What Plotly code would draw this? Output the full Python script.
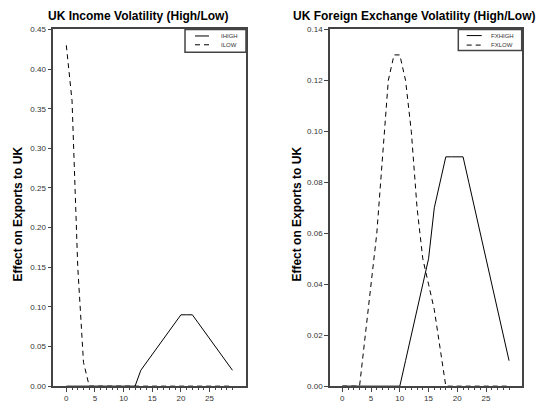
import plotly.graph_objects as go

# Horizon (periods) shared by both panels
periods = list(range(30))

# UK income volatility responses
ihigh = [0, 0, 0, 0, 0, 0, 0, 0, 0, 0, 0, 0, 0,
         0.02, 0.03, 0.04, 0.05, 0.06, 0.07, 0.08, 0.09, 0.09, 0.09,
         0.08, 0.07, 0.06, 0.05, 0.04, 0.03, 0.02]
ilow = [0.43, 0.36, 0.15, 0.03, 0,
        0, 0, 0, 0, 0, 0, 0, 0, 0, 0, 0, 0, 0, 0, 0,
        0, 0, 0, 0, 0, 0, 0, 0, 0, 0]

# UK foreign exchange volatility responses
fxhigh = [0, 0, 0, 0, 0, 0, 0, 0, 0, 0, 0,
          0.01, 0.02, 0.03, 0.04, 0.05, 0.07, 0.08, 0.09, 0.09, 0.09, 0.09,
          0.08, 0.07, 0.06, 0.05, 0.04, 0.03, 0.02, 0.01]
fxlow = [0, 0, 0, 0, 0.02, 0.04, 0.06, 0.09, 0.12, 0.13, 0.13, 0.12, 0.10,
         0.07, 0.05, 0.04, 0.03, 0.015, 0,
         0, 0, 0, 0, 0, 0, 0, 0, 0, 0, 0]

left_titles = ["UK Income Volatility (High/Low)", "UK Foreign Exchange Volatility (High/Low)"]
y_title = "Effect on Exports to UK"
x_ticks = [0, 5, 10, 15, 20, 25]
left_y_ticks = [0.00, 0.05, 0.10, 0.15, 0.20, 0.25, 0.30, 0.35, 0.40, 0.45]
right_y_ticks = [0.00, 0.02, 0.04, 0.06, 0.08, 0.10, 0.12, 0.14]

W, H = 540, 411
FRAME = "#444444"
TEXT = "#333333"
DASH = "5px,4px"


def px(x):
    return x / W


def py(y):
    return 1 - y / H


fig = go.Figure()

panels = [
    dict(xa="x", ya="y", series=[("IHIGH", ihigh, "solid"), ("ILOW", ilow, DASH)]),
    dict(xa="x2", ya="y2", series=[("FXHIGH", fxhigh, "solid"), ("FXLOW", fxlow, DASH)]),
]

for p in panels:
    for name, vals, dash in p["series"]:
        fig.add_trace(go.Scatter(
            x=periods, y=vals, name=name, mode="lines",
            line=dict(color="black", width=1, dash=dash),
            xaxis=p["xa"], yaxis=p["ya"], showlegend=False,
        ))

axis_common = dict(
    showline=True, linecolor=FRAME, linewidth=1.5, mirror=True,
    showgrid=False, zeroline=False, ticks="outside", ticklen=4,
    tickcolor=FRAME, tickwidth=1, tickfont=dict(family="Liberation Sans, Arial", size=8, color=TEXT),
)

xminor = dict(tickmode="array", tickvals=periods, ticks="outside", ticklen=2,
              tickcolor=FRAME, tickwidth=1, showgrid=False)

fig.update_layout(
    width=W, height=H,
    margin=dict(l=0, r=0, t=0, b=0),
    paper_bgcolor="white", plot_bgcolor="white",
    showlegend=False,
    xaxis=dict(domain=[px(53.3), px(246)], range=[-2.27, 31.36], anchor="y",
               tickmode="array", tickvals=x_ticks, minor=xminor, **axis_common),
    yaxis=dict(domain=[py(390.7), py(26)], range=[0, 0.45], anchor="x",
               tickmode="array", tickvals=left_y_ticks, tickformat=".2f", **axis_common),
    xaxis2=dict(domain=[px(330), px(521.7)], range=[-2.14, 31.2], anchor="y2",
                tickmode="array", tickvals=x_ticks, minor=xminor, **axis_common),
    yaxis2=dict(domain=[py(390.7), py(26)], range=[0, 0.14], anchor="x2",
                tickmode="array", tickvals=right_y_ticks, tickformat=".2f", **axis_common),
)

title_font = dict(family="Liberation Sans, Arial", size=12, color="black")
annotations = [
    dict(text="<b>%s</b>" % left_titles[0], x=px(138.2), y=py(12.5), xref="paper", yref="paper",
         showarrow=False, xanchor="center", yanchor="middle", font=title_font),
    dict(text="<b>%s</b>" % left_titles[1], x=px(414.3), y=py(12.5), xref="paper", yref="paper",
         showarrow=False, xanchor="center", yanchor="middle", font=title_font),
    dict(text="<b>%s</b>" % y_title, x=px(18.3), y=py(215), xref="paper", yref="paper",
         showarrow=False, textangle=-90, xanchor="center", yanchor="middle", font=title_font),
    dict(text="<b>%s</b>" % y_title, x=px(297.3), y=py(215), xref="paper", yref="paper",
         showarrow=False, textangle=-90, xanchor="center", yanchor="middle", font=title_font),
]

# Legend boxes drawn in the upper-right corner of each panel
legend_specs = [
    dict(box=(185, 26, 246, 49.3), rows=(32.7, 41.7), sample=(195, 209), text_x=219,
         names=[s[0] for s in panels[0]["series"]], dashes=[s[2] for s in panels[0]["series"]]),
    dict(box=(458.3, 26, 521.7, 47.5), rows=(32.3, 42), sample=(466.7, 481.7), text_x=489.3,
         names=[s[0] for s in panels[1]["series"]], dashes=[s[2] for s in panels[1]["series"]]),
]

shapes = []
for spec in legend_specs:
    x0, y0, x1, y1 = spec["box"]
    shapes.append(dict(type="rect", xref="paper", yref="paper",
                       x0=px(x0), x1=px(x1), y0=py(y1), y1=py(y0),
                       line=dict(color=FRAME, width=1.5), fillcolor="white", layer="above"))
    for row_y, name, dash in zip(spec["rows"], spec["names"], spec["dashes"]):
        shapes.append(dict(type="line", xref="paper", yref="paper",
                           x0=px(spec["sample"][0]), x1=px(spec["sample"][1]),
                           y0=py(row_y), y1=py(row_y),
                           line=dict(color="black", width=1, dash=dash), layer="above"))
        annotations.append(dict(text=name, x=px(spec["text_x"]), y=py(row_y),
                                xref="paper", yref="paper", showarrow=False,
                                xanchor="left", yanchor="middle",
                                font=dict(family="Liberation Sans, Arial", size=6, color=TEXT)))

fig.update_layout(shapes=shapes, annotations=annotations)

fig.write_html("out.html")
